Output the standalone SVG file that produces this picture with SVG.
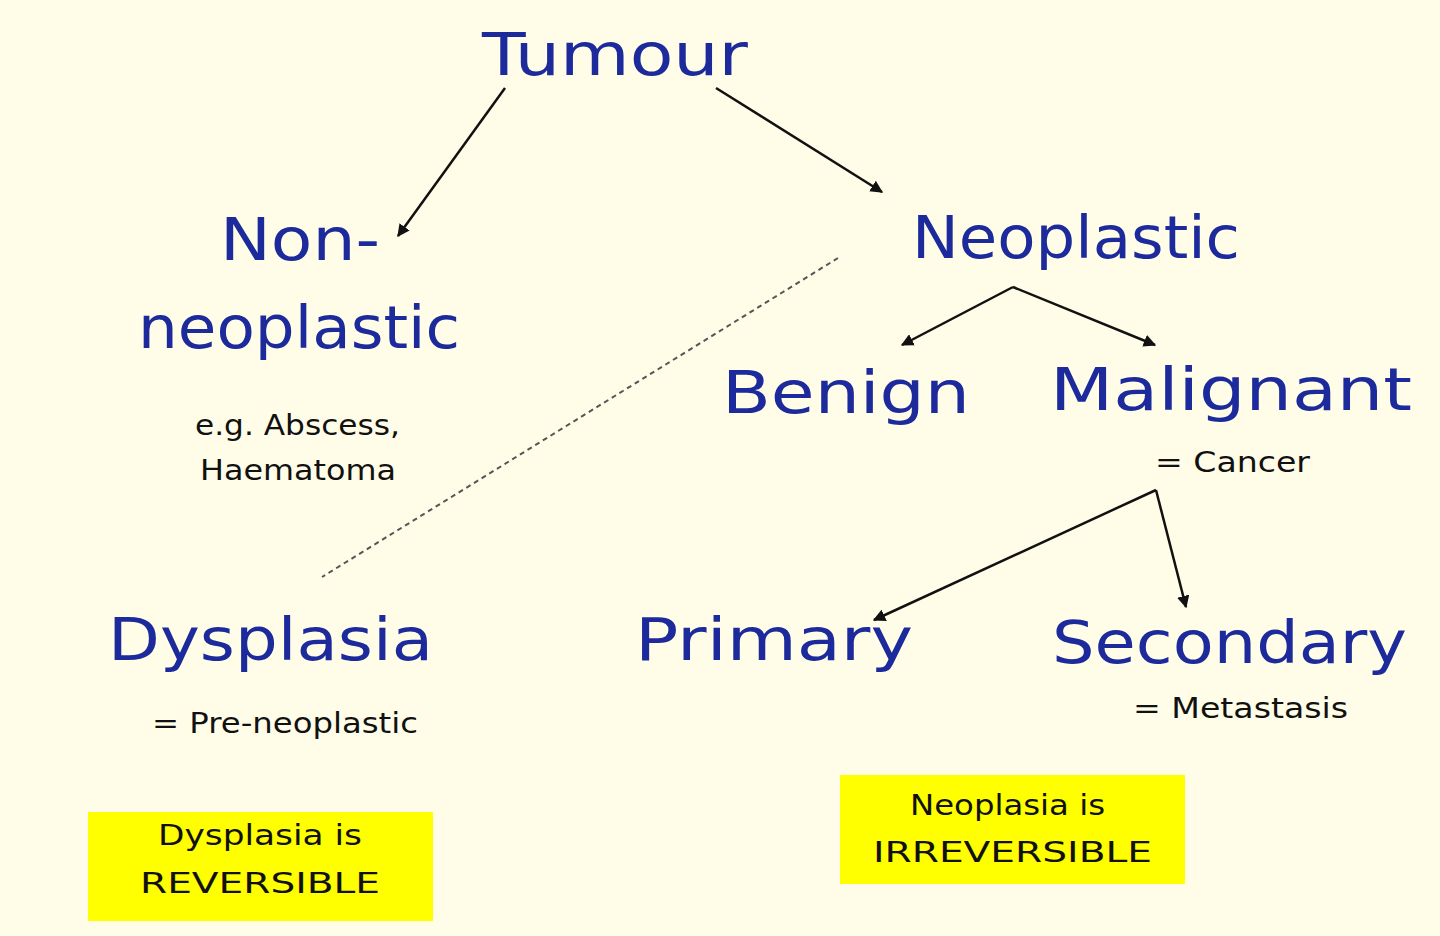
<svg xmlns="http://www.w3.org/2000/svg" width="1440" height="936" viewBox="0 0 1440 936">
<style>
.big{font-family:"DejaVu Sans",sans-serif;font-size:58px;fill:#1c2a9c}
.sm{font-family:"DejaVu Sans",sans-serif;font-size:28px;fill:#111}
.c{stroke:#111;stroke-width:2.5;fill:none;marker-end:url(#a)}
</style>
<defs><marker id="a" viewBox="0 0 10 10" refX="9" refY="5" markerWidth="5" markerHeight="5" orient="auto"><path d="M0,0L10,5L0,10z" fill="#111"/></marker></defs>
<rect width="1440" height="936" fill="#fffde8"/>
<g id="connectors">
<line class="c" x1="505" y1="88" x2="398" y2="236"/>
<line class="c" x1="716" y1="88" x2="882" y2="192"/>
<line class="c" x1="1013" y1="287" x2="902" y2="345"/>
<line class="c" x1="1013" y1="287" x2="1155" y2="345"/>
<line class="c" x1="1156" y1="490" x2="874" y2="620"/>
<line class="c" x1="1156" y1="490" x2="1186" y2="607"/>
<line x1="838" y1="258" x2="322" y2="577" stroke="#555" stroke-width="2" stroke-dasharray="5,4"/>
</g>
<g id="tumour"><text class="big" x="482" y="75" textLength="266" lengthAdjust="spacingAndGlyphs">Tumour</text></g>
<g id="nonneo"><text class="big" x="220" y="260" textLength="160" lengthAdjust="spacingAndGlyphs">Non-</text>
<text class="big" x="138" y="348" textLength="322" lengthAdjust="spacingAndGlyphs">neoplastic</text>
<text class="sm" x="195" y="435" textLength="205" lengthAdjust="spacingAndGlyphs">e.g. Abscess,</text>
<text class="sm" x="200" y="480" textLength="196" lengthAdjust="spacingAndGlyphs">Haematoma</text></g>
<g id="neoplastic"><text class="big" x="912" y="258" textLength="328" lengthAdjust="spacingAndGlyphs">Neoplastic</text></g>
<g id="benign"><text class="big" x="722" y="413" textLength="248" lengthAdjust="spacingAndGlyphs">Benign</text></g>
<g id="malignant"><text class="big" x="1050" y="410" textLength="362" lengthAdjust="spacingAndGlyphs">Malignant</text>
<text class="sm" x="1155" y="472" textLength="155" lengthAdjust="spacingAndGlyphs">= Cancer</text></g>
<g id="dysplasia"><text class="big" x="108" y="660" textLength="325" lengthAdjust="spacingAndGlyphs">Dysplasia</text>
<text class="sm" x="152" y="733" textLength="266" lengthAdjust="spacingAndGlyphs">= Pre-neoplastic</text></g>
<g id="primary"><text class="big" x="635" y="660" textLength="278" lengthAdjust="spacingAndGlyphs">Primary</text></g>
<g id="secondary"><text class="big" x="1052" y="663" textLength="355" lengthAdjust="spacingAndGlyphs">Secondary</text>
<text class="sm" x="1133" y="718" textLength="215" lengthAdjust="spacingAndGlyphs">= Metastasis</text></g>
<g id="box1"><rect x="88" y="812" width="345" height="109" fill="#ffff00"/>
<text class="sm" x="158" y="845" textLength="204" lengthAdjust="spacingAndGlyphs">Dysplasia is</text>
<text class="sm" x="140" y="893" textLength="240" lengthAdjust="spacingAndGlyphs">REVERSIBLE</text></g>
<g id="box2"><rect x="840" y="775" width="345" height="109" fill="#ffff00"/>
<text class="sm" x="910" y="815" textLength="195" lengthAdjust="spacingAndGlyphs">Neoplasia is</text>
<text class="sm" x="873" y="862" textLength="279" lengthAdjust="spacingAndGlyphs">IRREVERSIBLE</text></g>
</svg>
